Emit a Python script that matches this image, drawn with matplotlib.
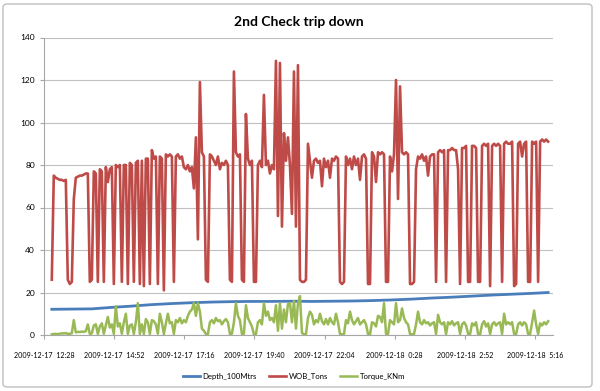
import pandas as pd
import matplotlib
matplotlib.use('Agg')
import matplotlib.pyplot as plt
from matplotlib.patches import FancyBboxPatch

# readings, one every ~4 minutes
wob = [26, 75, 74, 73.5, 73, 73, 72.5, 73, 26, 24,
       25, 64, 74, 74.5, 75, 75, 75.5, 76, 76, 25,
       26, 77, 76, 25, 78, 77, 25, 79, 72, 78,
       79, 24, 80, 79, 80, 25, 80, 80, 24, 81,
       80, 25, 81, 82, 24, 82, 23, 83, 83, 24,
       87, 83, 84, 24, 84, 83, 21, 85, 84, 85,
       84, 25, 84, 85, 83, 84, 79, 78, 80, 77,
       79, 69, 93, 45, 119, 86, 84, 26, 25, 85,
       84, 82, 80, 84, 78, 81, 80, 82, 80, 26,
       25, 124, 86, 84, 85, 26, 25, 104, 83, 80,
       82, 25, 25, 80, 82, 79, 113, 80, 82, 76,
       80, 78, 129, 56, 128, 51, 95, 82, 93, 80,
       57, 124, 51, 127, 26, 25, 25, 26, 90, 82,
       74, 82, 83, 81, 82, 70, 83, 79, 82, 74,
       83, 82, 84, 83, 25, 24, 25, 84, 80, 83,
       78, 84, 80, 83, 73, 84, 85, 83, 24, 24,
       86, 84, 72, 86, 85, 86, 85, 25, 25, 84,
       77, 85, 120, 64, 117, 86, 85, 86, 85, 24,
       24, 25, 78, 84, 83, 85, 82, 84, 75, 84,
       85, 85, 25, 86, 87, 86, 87, 25, 87, 87,
       88, 87, 87, 78, 24, 88, 88, 89, 25, 25,
       89, 89, 88, 25, 25, 89, 90, 89, 90, 23,
       89, 90, 89, 90, 89, 25, 90, 91, 90, 90,
       91, 23, 24, 90, 91, 84, 90, 91, 25, 25,
       91, 90, 91, 25, 91, 92, 91, 92, 91]

torque = [0.3, 0.5, 0.5, 0.4, 0.6, 0.8, 0.7, 0.9, 0.5, 0.6,
          0.8, 7, 1.2, 1.5, 1.4, 1.6, 1.5, 1.8, 5, 0.5,
          0.8, 4.5, 5, 0.5, 4, 5.5, 0.6, 4.5, 8.5, 3.5,
          5, 0.5, 13.5, 4, 5.5, 0.6, 6, 10, 0.5, 4.5,
          5, 0.5, 6, 15, 0.5, 5, 0.5, 7.5, 6, 0.5,
          7, 6.5, 5, 0.6, 10, 6, 0.4, 5.5, 10, 5.5,
          6, 0.5, 7, 6, 8, 5.5, 7, 6, 9, 11,
          12, 15, 9, 15, 11, 3, 2, 0.5, 0.4, 6,
          7, 5.5, 8, 6.5, 7, 5, 6.5, 7.5, 6, 0.5,
          0.6, 6, 15, 9, 7, 0.5, 0.6, 14, 8, 6,
          4, 0.3, 0.5, 6, 7, 5, 15, 9, 11, 7,
          8, 6, 14, 2, 15, 3, 12, 6, 14.5, 15,
          6, 16, 3, 15, 18.3, 1, 0.3, 0.4, 8, 11,
          9.5, 5, 7, 6, 10, 6.5, 5, 7.5, 5, 8,
          6, 5, 10, 6, 0.5, 0.3, 0.5, 7, 5.5, 11,
          7, 5, 6.5, 8, 5, 6, 7, 5, 0.5, 0.3,
          6, 5.5, 4, 9, 8.5, 6, 15, 0.5, 0.5, 7,
          6, 5, 15, 6, 7, 12.5, 8, 6, 5, 0.5,
          0.3, 0.5, 5, 11, 6, 5, 7, 5.5, 6, 4.5,
          5.5, 6, 0.5, 9.5, 6, 5, 6, 0.4, 6, 5,
          6.5, 4.5, 5.5, 6, 0.5, 5, 6, 4.5, 0.5, 0.4,
          5.5, 4.5, 6, 0.5, 0.3, 5, 6.5, 4, 5.5, 0.5,
          5, 6, 4.5, 5.5, 6, 0.5, 10, 5, 6, 5,
          6, 0.5, 0.4, 5, 6, 4.5, 6, 5, 0.5, 0.5,
          6, 11.5, 5, 0.5, 5.5, 4.5, 6, 5, 6.5]

# depth only read every 10th sample (plus the last one)
depth = [12.1, 12.2, 12.3, 13.0, 13.6, 14.3, 14.8, 15.2, 15.5, 15.7,
         15.8, 15.8, 15.9, 15.8, 15.9, 16.0, 16.2, 16.5, 16.9, 17.4,
         17.8, 18.3, 18.8, 19.2, 19.6, 20.0]

times = pd.date_range("2009-12-17 12:44", "2009-12-18 05:43", periods=len(wob))
depth_idx = list(range(0, len(wob), 10)) + [len(wob) - 1]
depth_times = times[depth_idx]

axis_start = pd.Timestamp("2009-12-17 12:28")
axis_end = pd.Timestamp("2009-12-18 05:53")
tick_times = [axis_start + pd.Timedelta(minutes=144 * k) for k in range(8)]
tick_labels = ["%s  %d:%s" % (t.strftime("%Y-%m-%d"), t.hour, t.strftime("%M")) for t in tick_times]

plt.rcParams['font.family'] = ['Lato', 'DejaVu Sans']

fig = plt.figure(figsize=(6, 3.91), dpi=100)
ax = fig.add_axes([44/600, 1 - 335/391, (553 - 44)/600, (335 - 37.5)/391])

ax.plot(depth_times, depth, color="#4A7EBB", lw=2.0, label="Depth_100Mtrs")
ax.plot(times, wob, color="#BE4B48", lw=1.9, label="WOB_Tons")
ax.plot(times, torque, color="#98B954", lw=1.8, label="Torque_KNm")

ax.set_ylim(0, 140)
ax.set_yticks(range(0, 141, 20))
ax.set_xlim(axis_start, axis_end)
ax.set_xticks(tick_times)
ax.set_xticklabels(tick_labels, fontsize=5.1)
ax.grid(axis='y', color='#c0c0c0', lw=0.8)
ax.set_axisbelow(True)
for s in ['top', 'right']:
    ax.spines[s].set_visible(False)
for s in ['left', 'bottom']:
    ax.spines[s].set_color('#a6a6a6')
ax.tick_params(axis='y', labelsize=6, colors='#a6a6a6', labelcolor='black', length=3)
ax.tick_params(axis='x', colors='#a6a6a6', labelcolor='black', length=3, pad=9)

fig.text(0.498, 1 - 22/391, "2nd Check trip down", ha='center', va='center',
         fontsize=10, fontweight='bold')

fig.legend(loc='center', bbox_to_anchor=(0.49, 1 - 376/391), ncol=3, frameon=False,
           fontsize=5.6, handlelength=2.2, columnspacing=1.6, handletextpad=0.3)

fig.patches.append(FancyBboxPatch((3/600, 4/391), 589/600, 383/391,
                                  boxstyle="round,pad=0,rounding_size=0.008",
                                  transform=fig.transFigure, fill=False,
                                  ec='#bfbfbf', lw=1))

fig.savefig('out.png', dpi=100)
